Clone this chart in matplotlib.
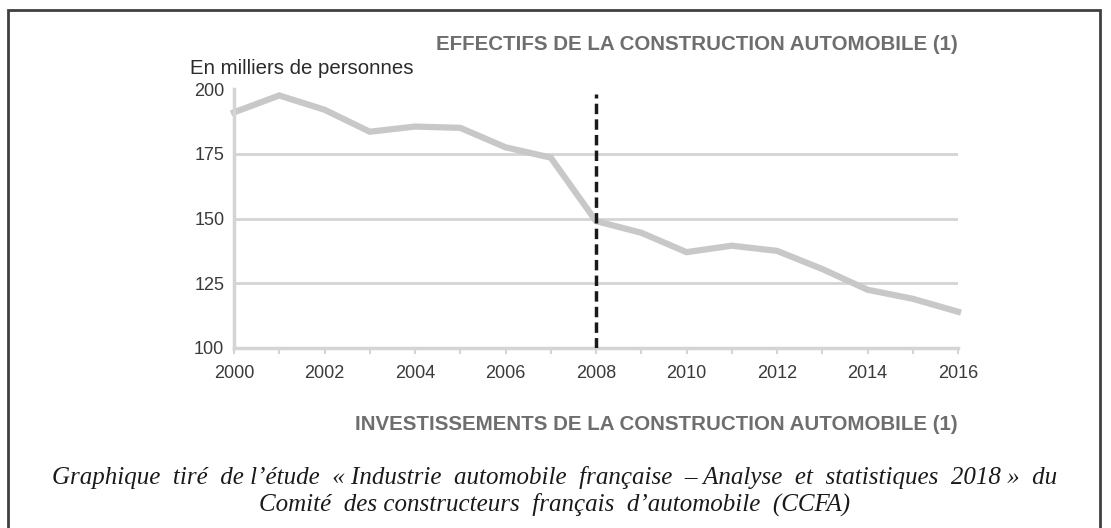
import matplotlib
matplotlib.use("Agg")
import matplotlib.pyplot as plt
from matplotlib.patches import Rectangle
import numpy as np

# Données (en milliers de personnes)
annees = [2000, 2001, 2002, 2003, 2004, 2005, 2006, 2007, 2008,
          2009, 2010, 2011, 2012, 2013, 2014, 2015, 2016]
effectifs = [191, 197.5, 192, 183.5, 185.5, 185, 177.5, 173.5, 149,
             144.5, 137, 139.5, 137.5, 130.5, 122.5, 119, 114]
annee_crise = 2008
yticks = [100, 125, 150, 175, 200]
xlabels = [str(a) if a % 2 == 0 else '' for a in annees]

titre_haut = 'EFFECTIFS DE LA CONSTRUCTION AUTOMOBILE (1)'
titre_bas = 'INVESTISSEMENTS DE LA CONSTRUCTION AUTOMOBILE (1)'
unite = 'En milliers de personnes'
legende = ("Graphique  tiré  de l’étude  « Industrie  automobile  française  – Analyse  et  statistiques  2018 »  du\n"
           "Comité  des constructeurs  français  d’automobile  (CCFA)")

SANS = ['Liberation Sans', 'DejaVu Sans']
GRIS_LIGNE = '#c8c8c8'
GRIS_GRILLE = '#d4d4d4'
GRIS_TEXTE = '#6e6e6e'

fig = plt.figure(figsize=(11.11, 5.28), dpi=100)

# cadre
fig.patches.append(Rectangle((8 / 1111, -0.05), (1100 - 8) / 1111, 1.05 - 10 / 528,
                             transform=fig.transFigure, fill=False,
                             edgecolor='#404040', linewidth=2))

ax = fig.add_axes([234 / 1111, 1 - 348 / 528, (958 - 234) / 1111, (348 - 89) / 528])
ax.set_xlim(2000, 2016)
ax.set_ylim(100, 200)

for y in yticks[1:-1]:
    ax.axhline(y, color=GRIS_GRILLE, linewidth=2, zorder=1)

ax.plot(annees, effectifs, color=GRIS_LIGNE, linewidth=4.5, zorder=2,
        solid_joinstyle='miter', clip_on=False)
ax.vlines(annee_crise, 100, 198, colors='#1a1a1a', linestyles=(0, (3, 1.5)),
          linewidth=2.5, zorder=3)

for s in ['top', 'right']:
    ax.spines[s].set_visible(False)
ax.spines['left'].set_color(GRIS_GRILLE)
ax.spines['left'].set_linewidth(2.5)
ax.spines['bottom'].set_color(GRIS_GRILLE)
ax.spines['bottom'].set_linewidth(2.5)

ax.set_xticks(annees, xlabels)
ax.set_yticks(yticks, [str(v) for v in yticks])
ax.tick_params(axis='x', length=4, width=1.5, color=GRIS_GRILLE, pad=8,
               labelsize=13, labelcolor='#3a3a3a')
ax.tick_params(axis='y', length=0, pad=7, labelsize=13, labelcolor='#3a3a3a')
for lab in ax.get_xticklabels() + ax.get_yticklabels():
    lab.set_family(SANS)

fig.text(958 / 1111, 1 - 45 / 528, titre_haut, ha='right', va='center',
         family=SANS, weight='bold', fontsize=14.8, color=GRIS_TEXTE)
fig.text(190 / 1111, 1 - 69 / 528, unite, ha='left', va='center',
         family=SANS, fontsize=14.7, color='#2a2a2a')
fig.text(958 / 1111, 1 - 425 / 528, titre_bas, ha='right', va='center',
         family=SANS, weight='bold', fontsize=14.8, color=GRIS_TEXTE)
fig.text(555 / 1111, 1 - 491 / 528, legende, ha='center', va='center',
         family=['Liberation Serif', 'DejaVu Serif'], style='italic',
         fontsize=18, color='#1a1a1a', linespacing=1.25)

fig.savefig('out.png', dpi=100)
